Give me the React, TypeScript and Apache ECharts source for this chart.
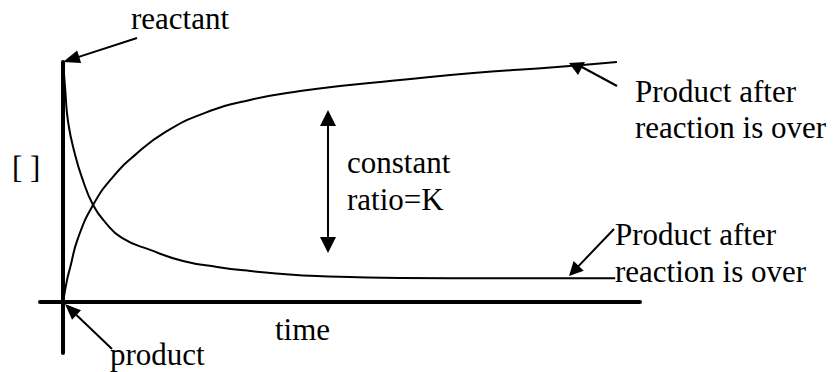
import React, { useEffect, useRef } from "react";
import * as echarts from "echarts";

// time (arbitrary units, 0..100) and concentrations (arbitrary units, 0..100)
const reactantTime = [0, 0.35, 0.87, 2.08, 3.29, 5.2, 7.28, 10.2, 15.1, 20.8, 26.7, 32.4, 38.1, 44.0, 49.7, 58.4, 75.7, 95.7];
const reactantConc = [100, 89.2, 75, 61.3, 51.7, 40.4, 33.3, 26.7, 21.7, 17.1, 14.6, 12.9, 11.7, 10.8, 10.4, 10.0, 9.9, 9.9];

const productTime = [0, 0.69, 1.21, 2.6, 5.2, 8.5, 12.5, 17.7, 24.6, 32.4, 41.1, 49.7, 58.4, 71.1, 85.6, 96.0];
const productConc = [0, 9.2, 14.2, 26.7, 40.4, 51.7, 61.3, 70.8, 78.8, 84.2, 87.9, 90.4, 92.5, 95.4, 97.9, 100];

const xMin = -4;
const xMax = 100;
const yMin = -21.25;
const yMax = 100;

const FONT = "Liberation Serif";
const FS = 31;

function txt(text: string, x: number, baseline: number) {
  return {
    type: "text",
    x,
    y: baseline - 0.8375 * FS,
    style: {
      text,
      fontFamily: FONT,
      fontSize: FS,
      fill: "#000",
    },
  };
}

function arrow(tail: number[], tip: number[], len: number, wid: number) {
  const dx = tip[0] - tail[0];
  const dy = tip[1] - tail[1];
  const L = Math.hypot(dx, dy);
  const ux = dx / L;
  const uy = dy / L;
  const bx = tip[0] - ux * len;
  const by = tip[1] - uy * len;
  const nx = -uy;
  const ny = ux;
  return [
    {
      type: "line",
      shape: { x1: tail[0], y1: tail[1], x2: bx + ux * 2, y2: by + uy * 2 },
      style: { stroke: "#000", lineWidth: 2 },
    },
    {
      type: "polygon",
      shape: {
        points: [
          [tip[0], tip[1]],
          [bx + (nx * wid) / 2, by + (ny * wid) / 2],
          [bx - (nx * wid) / 2, by - (ny * wid) / 2],
        ],
      },
      style: { fill: "#000" },
    },
  ];
}

export default function App() {
  const ref = useRef<HTMLDivElement>(null);

  useEffect(() => {
    if (!ref.current) return;
    const chart = echarts.init(ref.current, null, { renderer: "svg" });

    const axisCommon = {
      type: "value",
      axisLine: { show: true, onZero: true, lineStyle: { color: "#000", width: 4 } },
      axisTick: { show: false },
      axisLabel: { show: false },
      splitLine: { show: false },
    };

    const graphic: any[] = [
      txt("reactant", 131, 29),
      txt("Product after", 635, 102),
      txt("reaction is over", 635, 138),
      txt("constant", 347, 173),
      txt("ratio=K", 347, 210),
      txt("[ ]", 12, 177.5),
      txt("Product after", 615, 245),
      txt("reaction is over", 615, 282),
      txt("time", 275, 340),
      txt("product", 110, 365),
      ...arrow([137, 38], [63, 62], 17, 13),
      ...arrow([112, 349], [65, 304], 16, 13),
      ...arrow([614, 229], [569, 276], 14, 14),
      // top-right arrow
      {
        type: "line",
        shape: { x1: 617, y1: 86, x2: 580, y2: 66 },
        style: { stroke: "#000", lineWidth: 2 },
      },
      {
        type: "polygon",
        shape: { points: [[569, 63], [585, 62], [578, 75]] },
        style: { fill: "#000" },
      },
      // double arrow
      {
        type: "line",
        shape: { x1: 328, y1: 122, x2: 328, y2: 241 },
        style: { stroke: "#000", lineWidth: 2 },
      },
      {
        type: "polygon",
        shape: { points: [[328, 110], [320, 126], [336, 126]] },
        style: { fill: "#000" },
      },
      {
        type: "polygon",
        shape: { points: [[328, 253], [320, 237], [336, 237]] },
        style: { fill: "#000" },
      },
    ];

    chart.setOption({
      animation: false,
      backgroundColor: "#fff",
      grid: { left: 40, top: 62, width: 600, height: 291, containLabel: false },
      xAxis: { ...axisCommon, min: xMin, max: xMax },
      yAxis: { ...axisCommon, min: yMin, max: yMax },
      series: [
        {
          name: "reactant",
          type: "line",
          data: reactantTime.map((t, i) => [t, reactantConc[i]]),
          showSymbol: false,
          smooth: 0.5,
          lineStyle: { color: "#000", width: 2 },
          z: 3,
        },
        {
          name: "product",
          type: "line",
          data: productTime.map((t, i) => [t, productConc[i]]),
          showSymbol: false,
          smooth: 0.5,
          lineStyle: { color: "#000", width: 2 },
          z: 3,
        },
      ],
      graphic,
    });

    return () => {
      chart.dispose();
    };
  }, []);

  return (
    <div
      ref={ref}
      style={{ position: "fixed", left: 0, top: 0, width: 837, height: 372, background: "#fff" }}
    />
  );
}
